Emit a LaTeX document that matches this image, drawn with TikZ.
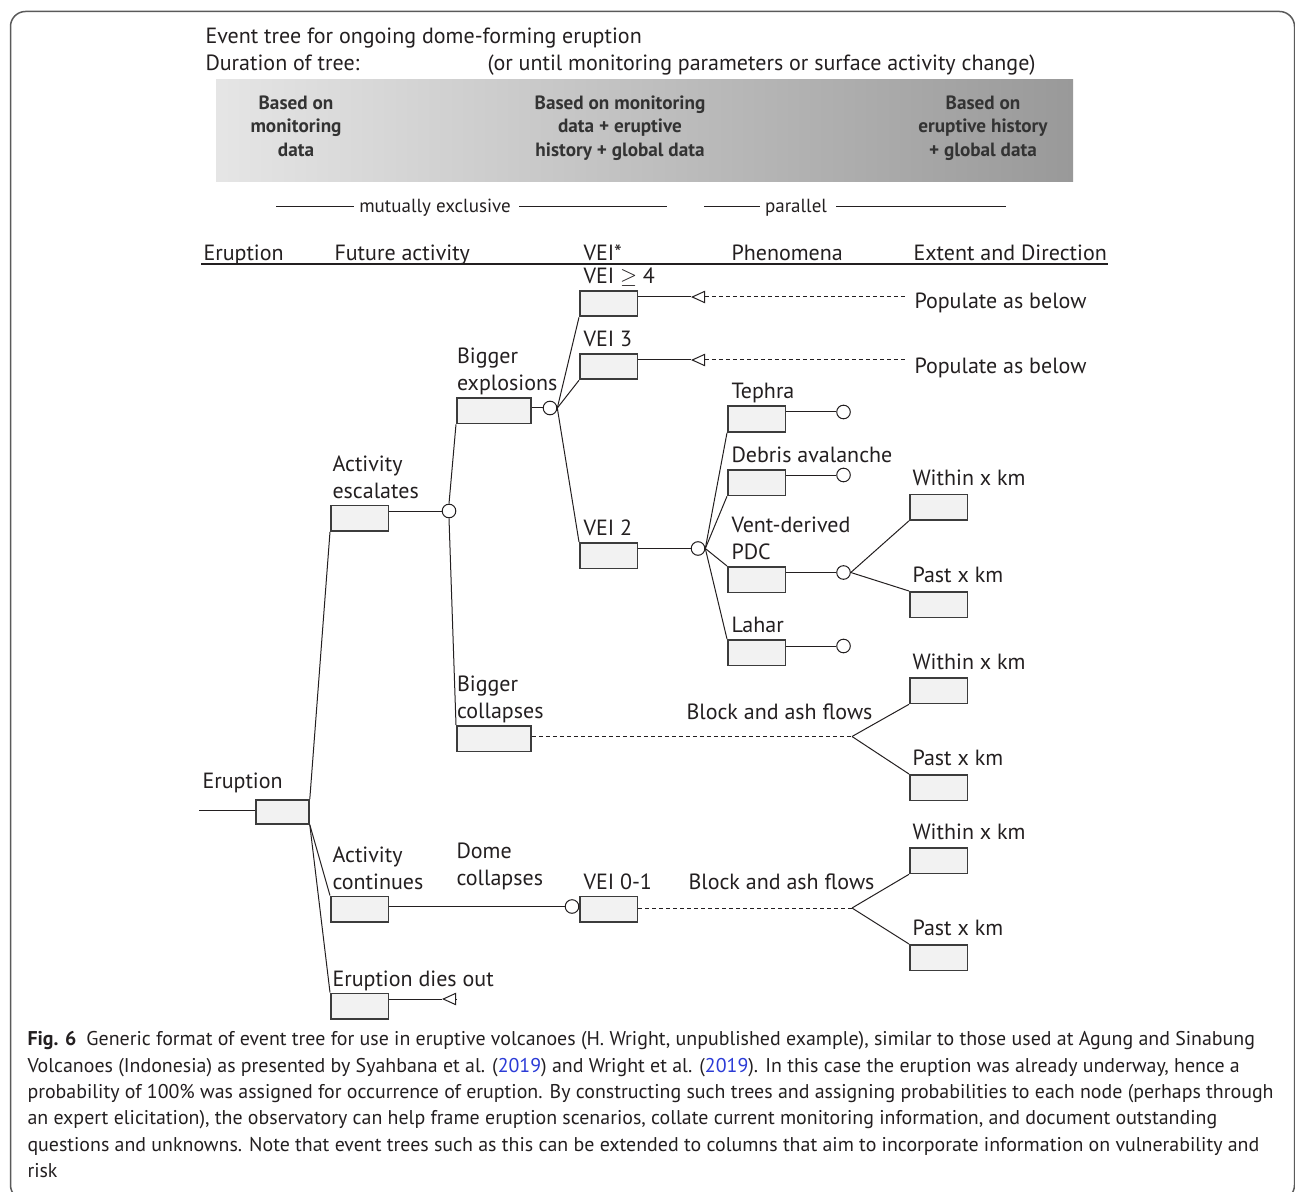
\documentclass[tikz,border=0pt]{standalone}
\usepackage{fontspec}
\setmainfont{PT Sans}
\usetikzlibrary{arrows.meta}
\definecolor{boxfill}{HTML}{F2F2F2}
\definecolor{boxline}{HTML}{3C3C3C}
\definecolor{inkgray}{HTML}{231F20}
\definecolor{linkblue}{HTML}{2B3BD6}
\definecolor{framegray}{HTML}{5A5A5A}
\tikzset{
  box/.style={draw=boxline, fill=boxfill, line width=0.9pt, inner sep=0pt,
    anchor=north west, minimum width=28.75pt, minimum height=12.75pt},
  wide/.style={minimum width=37pt},
  circ/.style={circle, draw=inkgray, fill=white, inner sep=0pt, minimum size=6.8pt},
  lbl/.style={inner sep=0pt, anchor=south west, text depth=0pt, align=left,
    font=\fontsize{11}{13.5}\selectfont},
  hdr/.style={inner sep=0pt, anchor=base west, font=\fontsize{11}{13.5}\selectfont},
  smalltext/.style={inner sep=0pt, anchor=base, font=\fontsize{9.5}{11}\selectfont},
  band/.style={inner sep=0pt, anchor=north, align=center, text=black!80,
    font=\bfseries\fontsize{9.6}{11.75}\selectfont},
  captext/.style={inner sep=0pt, anchor=north west, align=left,
    font=\fontsize{9.95}{13.2}\selectfont},
  opentip/.style={{Triangle[open, length=7pt, width=6.2pt]}-},
  dashline/.style={dash pattern=on 2pt off 1.5pt}
}
\begin{document}
\begin{tikzpicture}[x=0.5pt, y=-0.5pt, inkgray, line width=0.5pt]
\useasboundingbox (0,0) rectangle (1295,1192);
\draw[framegray, line width=0.75pt, rounded corners=7.5pt] (10.5,11.5) rectangle (1294.5,1200);

% heading
\node[hdr] (title) at (205,44) {Event tree for ongoing dome-forming eruption};
\node[hdr] (dur) at (205,71) {Duration of tree:};
\node[hdr] (until) at (487,71) {(or until monitoring parameters or surface activity change)};

% basis of the estimates
\shade[left color=gray!20, right color=gray!80] (216,80) rectangle (1073,182);
\node[band] (b1) at (296,95) {Based on\\monitoring\\data};
\node[band] (b2) at (620,95) {Based on monitoring\\data + eruptive\\history + global data};
\node[band] (b3) at (983,95) {Based on\\eruptive history\\+ global data};

\node[smalltext] (mx) at (435,213) {mutually exclusive};
\draw (276,207) -- (354,207);
\draw (519,207) -- (667,207);
\node[smalltext] (par) at (796,213) {parallel};
\draw (704,207) -- (760,207);
\draw (836,207) -- (1006,207);

% column heads
\foreach \x/\txt [count=\i] in {203/Eruption, 334/Future activity, 583/VEI*, 731/Phenomena, 913/Extent and Direction}
  \node[hdr] (col\i) at (\x,260.5) {\txt};
\draw[line width=1pt] (201,264.5) -- (1108,264.5);

% boxes
\node[box, minimum width=26.5pt, minimum height=12pt] (erupt) at (255,799) {};
\node[box] (esc) at (330,504.5) {};
\node[box] (cont) at (330,895.5) {};
\node[box] (dies) at (330,992.5) {};
\node[box, wide] (bexp) at (456,397) {};
\node[box, wide] (bcol) at (456,725) {};
\node[box] (v4) at (579,290) {};
\node[box] (v3) at (579,353) {};
\node[box] (v2) at (579,542) {};
\node[box] (v01) at (579,895.5) {};
\node[box] (teph) at (727,405.5) {};
\node[box] (debr) at (727,469) {};
\node[box] (pdc) at (727,566) {};
\node[box] (lah) at (727,639) {};
\node[box] (w1) at (909,493.5) {};
\node[box] (p1) at (909,591) {};
\node[box] (w2) at (909,677) {};
\node[box] (p2) at (909,774) {};
\node[box] (w3) at (909,847) {};
\node[box] (p3) at (909,944) {};

% chance nodes
\node[circ] (c1) at (449,511) {};
\node[circ] (c2) at (550,408) {};
\node[circ] (c3) at (698,548.5) {};
\node[circ] (c4) at (843.5,572.5) {};
\node[circ] (e1) at (843.5,412) {};
\node[circ] (e2) at (843.5,475) {};
\node[circ] (e3) at (843.5,646) {};
\node[circ] (c5) at (572,906.5) {};
\coordinate (f1) at (852,736.5);
\coordinate (f2) at (852,908);
\coordinate (t1) at (691,297);
\coordinate (t2) at (691,360);
\coordinate (t3) at (442,999);
\coordinate (d1) at (907,297);
\coordinate (d2) at (907,360);
\coordinate (in) at (199,810.5);

% labels
\node[hdr] (erlbl) at (202,788) {Eruption};
\node[lbl] (esclbl) at ([shift={(2,-6)}]esc.north west) {Activity\\escalates};
\node[lbl] (contlbl) at ([shift={(2,-6)}]cont.north west) {Activity\\continues};
\node[lbl] (dieslbl) at ([shift={(2,-6)}]dies.north west) {Eruption dies out};
\node[lbl] (bexplbl) at ([shift={(0.5,-6)}]bexp.north west) {Bigger\\explosions};
\node[lbl] (bcollbl) at ([shift={(0.5,-6.5)}]bcol.north west) {Bigger\\collapses};
\node[lbl] (v4lbl) at ([shift={(4,-6)}]v4.north west) {VEI \ensuremath{\geq} 4};
\node[lbl] (v3lbl) at ([shift={(4,-6)}]v3.north west) {VEI 3};
\node[lbl] (v2lbl) at ([shift={(4,-6)}]v2.north west) {VEI 2};
\node[lbl] (v01lbl) at ([shift={(4,-6)}]v01.north west) {VEI 0-1};
\node[lbl] (tephlbl) at ([shift={(4,-6)}]teph.north west) {Tephra};
\node[lbl] (debrlbl) at ([shift={(4,-6)}]debr.north west) {Debris avalanche};
\node[lbl] (pdclbl) at ([shift={(4,-6)}]pdc.north west) {Vent-derived\\PDC};
\node[lbl] (lahlbl) at ([shift={(4,-6.5)}]lah.north west) {Lahar};
\foreach \b in {w1,w2,w3}
  \node[lbl] (\b lbl) at ([shift={(3,-7.5)}]\b.north west) {Within x km};
\foreach \b in {p1,p2,p3}
  \node[lbl] (\b lbl) at ([shift={(3,-8)}]\b.north west) {Past x km};
\node[lbl] (domelbl) at (456,886) {Dome\\collapses};
\node[hdr] (baf1) at (686,719) {Block and ash flows};
\node[hdr] (baf2) at (688,889.5) {Block and ash flows};
\node[hdr] (pop1) at (914,309) {Populate as below};
\node[hdr] (pop2) at (914,373) {Populate as below};

% branches
\draw (in) -- (erupt.west |- in);
\draw (erupt.north east) -- (esc.south west);
\draw (erupt.south east) -- (cont.north west);
\draw (erupt.south east) -- (dies.north west);
\draw (esc.east |- c1) -- (c1);
\draw (c1.north) -- (bexp.south west);
\draw (c1.south) -- (bcol.north west);
\draw (bexp.east |- c2) -- (c2);
\draw (c2.east) -- (v4.south west);
\draw (c2.east) -- (v3.south west);
\draw (c2.east) -- (v2.north west);
\draw (v4.east |- t1) -- (t1);
\draw (v3.east |- t2) -- (t2);
\draw[opentip, dashline] (t1) -- (d1);
\draw[opentip, dashline] (t2) -- (d2);
\draw (v2.east |- c3) -- (c3);
\draw (c3.east) -- (teph.south west);
\draw (c3.east) -- (debr.south west);
\draw (c3.east) -- (pdc.north west);
\draw (c3.east) -- (lah.north west);
\draw (teph.east |- e1) -- (e1);
\draw (debr.east |- e2) -- (e2);
\draw (lah.east |- e3) -- (e3);
\draw (pdc.east |- c4) -- (c4);
\draw (c4.east) -- (w1.south west);
\draw (c4.east) -- (p1.north west);
\draw[dashline] (bcol.east |- f1) -- (f1);
\draw (f1) -- (w2.south west);
\draw (f1) -- (p2.north west);
\draw (cont.east |- c5) -- (c5);
\draw[dashline] (v01.east |- f2) -- (f2);
\draw (f2) -- (w3.south west);
\draw (f2) -- (p3.north west);
\draw (dies.east |- t3) -- (t3);
\draw[opentip] (t3) -- ++(14,0);

% caption
\node[captext] (caption) at (27,1031) {\textbf{Fig. 6}\enspace Generic format of event tree for use in eruptive volcanoes (H. Wright, unpublished example), similar to those used at Agung and Sinabung\\
Volcanoes (Indonesia) as presented by Syahbana et al. ({\color{linkblue}2019}) and Wright et al. ({\color{linkblue}2019}). In this case the eruption was already underway, hence a\\
probability of 100\% was assigned for occurrence of eruption. By constructing such trees and assigning probabilities to each node (perhaps through\\
an expert elicitation), the observatory can help frame eruption scenarios, collate current monitoring information, and document outstanding\\
questions and unknowns. Note that event trees such as this can be extended to columns that aim to incorporate information on vulnerability and\\
risk};
\end{tikzpicture}
\end{document}
